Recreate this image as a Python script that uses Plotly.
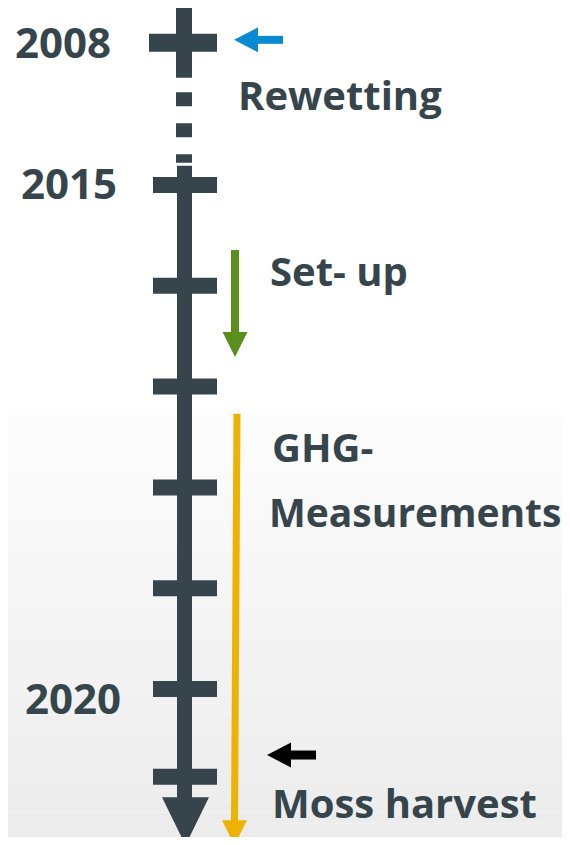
import plotly.graph_objects as go

# ---------------- data (vertical axis = timeline position in years) ----------------
# 2008 sits above an axis break, so it is drawn at a compressed display position.
tick_years = [2015, 2016, 2017, 2018, 2019, 2020, 2020.87]
break_year_pos = 2013.59          # display position of 2008 (axis break)
dash_span = [2014.08, 2014.78]    # dotted break segment
spine_span = [2014.81, 2021.10]   # solid timeline
axis_tip = 2021.55                # arrow tip of the timeline

year_labels = ["2008", "2015", "2020"]
year_label_pos = [2013.58, 2014.975, 2020.085]

event_labels = ["Rewetting", "Set- up", "GHG-", "Measurements", "Moss harvest"]
event_label_pos = [2014.10, 2015.85, 2017.59, 2018.235, 2021.13]

setup_period = [2015.645, 2016.706]      # green arrow
ghg_period = [2017.27, 2021.55]          # yellow arrow
rewetting_marker = 2013.56               # blue arrow
harvest_marker = 2020.655                # black arrow

# ---------------- styles ----------------
DARK = "#36454C"
GREEN = "#5B8F1C"
YELLOW = "#EDB300"
BLUE = "#0A8AD2"
BLACK = "#000000"
PX_PER_YEAR = 100.8
PAGE_MARGIN = 8                      # browser default body margin
W, H = 570, 845
Y_TOP = 2015 - 185 / PX_PER_YEAR

def py(px):  # pixel length -> year units
    return px / PX_PER_YEAR

FIG_W = W - 2 * PAGE_MARGIN
FIG_H = H - 2 * PAGE_MARGIN
Y_BOT = Y_TOP + py(PAGE_MARGIN + FIG_H)

fig = go.Figure()

# background gradient bands (decoration)
g0 = Y_TOP + py(410)
g1 = Y_TOP + py(845)
n = 40
for i in range(n):
    t0 = g0 + (g1 - g0) * i / n
    t1 = g0 + (g1 - g0) * (i + 1) / n
    f = (i + 0.5) / n
    c = int(round(253 - (253 - 235) * f))
    fig.add_shape(type="rect", xref="x", yref="y", x0=0, x1=W + 20, y0=t0, y1=t1,
                  fillcolor=f"rgb({c},{c},{c})", line_width=0, layer="below")

# ----- top cross for 2008 -----
fig.add_trace(go.Scatter(x=[184, 184], y=[break_year_pos - py(37), break_year_pos + py(35)],
                         mode="lines", line=dict(color=DARK, width=16), hoverinfo="skip"))
fig.add_trace(go.Scatter(x=[149, 217], y=[break_year_pos, break_year_pos],
                         mode="lines", line=dict(color=DARK, width=18), hoverinfo="skip"))
# dotted break
fig.add_trace(go.Scatter(x=[184, 184], y=dash_span, mode="lines",
                         line=dict(color=DARK, width=16, dash="14px,17px"), hoverinfo="skip"))
# spine
fig.add_trace(go.Scatter(x=[184.5, 184.5], y=spine_span, mode="lines",
                         line=dict(color=DARK, width=15), hoverinfo="skip"))
# ticks
tx, ty = [], []
for t in tick_years:
    tx += [153, 217, None]
    ty += [t, t, None]
fig.add_trace(go.Scatter(x=tx, y=ty, mode="lines", line=dict(color=DARK, width=16),
                         hoverinfo="skip"))
# timeline arrow head
fig.add_trace(go.Scatter(x=[162, 209, 185.5, 162],
                         y=[axis_tip - py(48), axis_tip - py(48), axis_tip, axis_tip - py(48)],
                         mode="lines", fill="toself", fillcolor=DARK, line=dict(width=0),
                         hoverinfo="skip"))

def v_arrow(xtop, xbot, y0, y1, color, width=7, head_len=25, head_half=12.5):
    base = y1 - py(head_len)
    fig.add_trace(go.Scatter(x=[xtop, xbot], y=[y0, base + py(1)], mode="lines",
                             line=dict(color=color, width=width), hoverinfo="skip"))
    fig.add_trace(go.Scatter(x=[xbot - head_half, xbot + head_half, xbot, xbot - head_half],
                             y=[base, base, y1, base], mode="lines", fill="toself",
                             fillcolor=color, line=dict(width=0), hoverinfo="skip"))

def h_arrow(x_tip, x_tail, y, color, width=8, head_len=24, head_half=12.5):
    base = x_tip + head_len
    fig.add_trace(go.Scatter(x=[base - 1, x_tail], y=[y, y], mode="lines",
                             line=dict(color=color, width=width), hoverinfo="skip"))
    fig.add_trace(go.Scatter(x=[base, base, x_tip, base],
                             y=[y - py(head_half), y + py(head_half), y, y - py(head_half)],
                             mode="lines", fill="toself", fillcolor=color,
                             line=dict(width=0), hoverinfo="skip"))

v_arrow(235, 235, setup_period[0], setup_period[1], GREEN, width=8)
v_arrow(237, 234.5, ghg_period[0], ghg_period[1], YELLOW, width=7)
h_arrow(234, 283, rewetting_marker, BLUE, width=8)
h_arrow(267, 316, harvest_marker, BLACK, width=9)

# ----- labels -----
year_x = [13, 19, 23]
for lab, pos, x in zip(year_labels, year_label_pos, year_x):
    fig.add_annotation(x=x, y=pos, text=lab, showarrow=False, xanchor="left",
                       yanchor="middle",
                       font=dict(family="Open Sans", size=42, color=DARK, weight="bold"))
event_x = [236, 268, 270, 267, 270]
event_size = [40, 40, 40, 39, 40]
for lab, pos, x, s in zip(event_labels, event_label_pos, event_x, event_size):
    fig.add_annotation(x=x, y=pos, text=lab, showarrow=False, xanchor="left",
                       yanchor="middle",
                       font=dict(family="Open Sans", size=s, color=DARK, weight="bold"))

fig.update_layout(
    width=FIG_W, height=FIG_H, margin=dict(l=0, r=0, t=0, b=0),
    paper_bgcolor="white", plot_bgcolor="white", showlegend=False,
    xaxis=dict(range=[PAGE_MARGIN, PAGE_MARGIN + FIG_W], visible=False, fixedrange=True),
    yaxis=dict(range=[Y_BOT, Y_TOP + py(PAGE_MARGIN)], visible=False, fixedrange=True),
)
fig.write_html("out.html")
